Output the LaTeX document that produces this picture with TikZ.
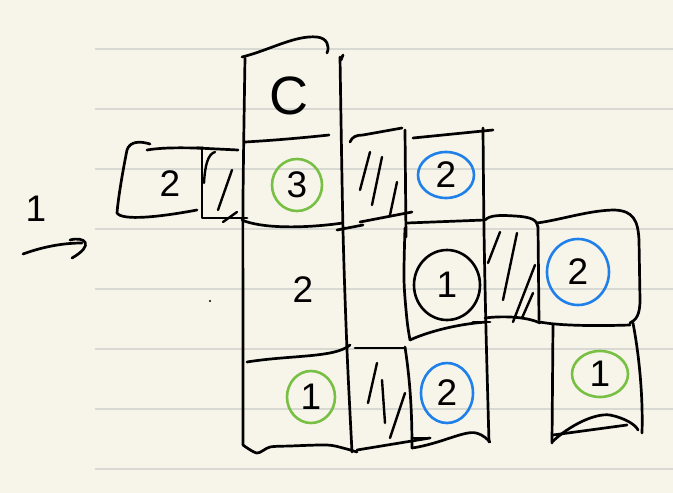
\documentclass[tikz,border=0pt]{standalone}
\usepackage{fontspec}
\setmainfont{Liberation Sans}
\usetikzlibrary{shapes.geometric}
\definecolor{paper}{HTML}{F7F5EA}
\definecolor{rule}{HTML}{D9D9D4}
\definecolor{pgreen}{HTML}{78C044}
\definecolor{pblue}{HTML}{1F80EA}
\tikzset{
  ink/.style={line width=2.7pt,line cap=round,line join=round,black},
  hatch/.style={line width=2.4pt,line cap=round,black},
  digit/.style={font=\fontsize{37}{37}\selectfont,inner sep=0pt},
  ring/.style={ellipse,draw,line width=2.6pt,inner sep=0pt,font=\fontsize{37}{37}\selectfont},
  gring/.style={ring,draw=pgreen},
  bring/.style={ring,draw=pblue},
  kring/.style={ring,draw=black},
}
\begin{document}
\begin{tikzpicture}[x=1pt,y=-1pt]
\fill[paper] (0,0) rectangle (673,493);
\useasboundingbox (0,0) rectangle (673,493);
% ruled lines
\foreach \yy in {49,109,169,229,289,349,409,469}
  \draw[rule,line width=1.6pt] (95,\yy) -- (673,\yy);

% left label and arrow
\node[digit] (one) at (36,209) {1};
\coordinate (arS) at (23,254);
\coordinate (arE) at (82,243);
\draw[ink] (arS) .. controls (45,246) and (65,243) .. (arE);
\draw[ink] (70,240) .. controls (85,236) and (95,245) .. (72,258);

% main column
\draw[ink] plot[smooth] coordinates {(245,58) (243,200) (243,330) (243,445)};
\draw[ink] plot[smooth] coordinates {(340,57) (343,230) (347,350) (352,452)};
\draw[ink] (341,60) -- (343,55);
\draw[ink] (242,57) .. controls (270,50) and (295,35) .. (317,37) .. controls (327,38) and (330,46) .. (327,53);
\draw[ink] (245,142) .. controls (280,140) and (310,137) .. (329,135);
\draw[ink] (242,220) .. controls (260,228) and (300,229) .. (343,223);
\draw[ink] (247,362) .. controls (290,355) and (335,358) .. (350,345);
\draw[ink] plot[smooth] coordinates {(243,445) (257,453) (270,447) (290,446) (327,445) (343,448) (357,452)};
\node[font=\fontsize{54}{54}\selectfont,inner sep=0pt] (cC) at (289,96) {C};
\node[gring,minimum width=50pt,minimum height=52pt] (g3) at (297,185) {3};
\node[digit] (t2) at (303,290) {2};
\node[gring,minimum width=48pt,minimum height=52pt] (g1) at (311,397) {1};

% left boxes
\draw[ink] (150,144) .. controls (140,141) and (130,141) .. (127,150)
  .. controls (122,175) and (118,200) .. (117,213)
  .. controls (122,221) and (160,217) .. (197,210);
\draw[ink] (147,150) .. controls (165,147) and (185,148) .. (203,148);
\node[digit] (b2) at (170,184) {2};
\draw[ink] (202,148) -- (202,218) -- (247,218);
\draw[ink] (197,148) -- (238,150);
\draw[hatch] (204,183) .. controls (205,165) and (208,154) .. (215,152);
\draw[hatch] (232,170) -- (218,210);
\draw[hatch] (223,222) -- (237,212);

% column 2 top hatched cell
\draw[ink] (350,142) .. controls (352,137) and (356,135) .. (363,135) -- (402,128);
\draw[ink] (405,130) -- (406,237);
\draw[hatch] (370,152) -- (360,190);
\draw[hatch] (382,157) -- (372,205);
\draw[hatch] (397,182) -- (390,215);
\draw[ink] (337,230) -- (363,225);
\draw[ink] (360,222) -- (412,212);

% column 3
\draw[ink] (413,138) -- (493,130);
\draw[ink] plot[smooth] coordinates {(483,128) (484,230) (486,330) (489,442)};
\node[bring,minimum width=56pt,minimum height=46pt] (b2a) at (446,175) {2};
\draw[ink] (407,223) -- (485,220);
\draw[ink] plot[smooth] coordinates {(405,228) (404,280) (407,320) (410,340)};
\draw[ink] (410,340) .. controls (425,333) and (455,324) .. (487,322);
\draw[ink] (473,322) -- (490,322);
\node[kring,minimum width=66pt,minimum height=70pt] (k1) at (447,285) {1};
\node[bring,minimum width=52pt,minimum height=60pt] (b2c) at (447,393) {2};
\draw[ink] (412,448) .. controls (440,444) and (465,430) .. (476,433) .. controls (484,435) and (488,440) .. (490,442);
\draw[ink] (412,438) -- (430,438);

% column 2 bottom hatched cell
\draw[ink] (355,348) -- (405,348);
\draw[ink] (405,347) .. controls (410,380) and (412,410) .. (412,448);
\draw[ink] (357,450) -- (430,438);
\draw[hatch] (377,363) -- (368,403);
\draw[hatch] (382,380) -- (385,423);
\draw[hatch] (405,393) -- (390,438);

% column 4 hatched cell
\draw[ink] (485,220) .. controls (490,215) and (500,215) .. (515,216) .. controls (532,217) and (537,220) .. (538,227);
\draw[ink] (538,227) -- (539,320);
\draw[ink] (485,318) .. controls (500,316) and (525,316) .. (540,323);
\draw[hatch] (500,232) -- (488,263);
\draw[hatch] (517,233) -- (503,300);
\draw[hatch] (535,265) -- (513,322);
\draw[hatch] (533,293) -- (522,318);

% column 5
\draw[ink] (537,223) .. controls (560,220) and (590,210) .. (615,210) .. controls (633,211) and (638,220) .. (639,240)
  -- (640,300) .. controls (640,315) and (636,320) .. (630,323);
\draw[ink] (540,322) .. controls (560,326) and (600,326) .. (630,325);
\node[bring,minimum width=62pt,minimum height=66pt] (b2b) at (578,272) {2};
\draw[ink] (553,325) -- (552,443);
\draw[ink] (633,323) .. controls (640,360) and (643,400) .. (642,433);
\draw[ink] (552,442) .. controls (570,425) and (595,413) .. (610,415) .. controls (625,418) and (636,425) .. (638,430);
\draw[ink] (553,435) -- (627,425);
\node[gring,minimum width=56pt,minimum height=46pt] (g1b) at (600,374) {1};

% stray dot
\fill (210,301) circle (1.2pt);
\end{tikzpicture}
\end{document}
